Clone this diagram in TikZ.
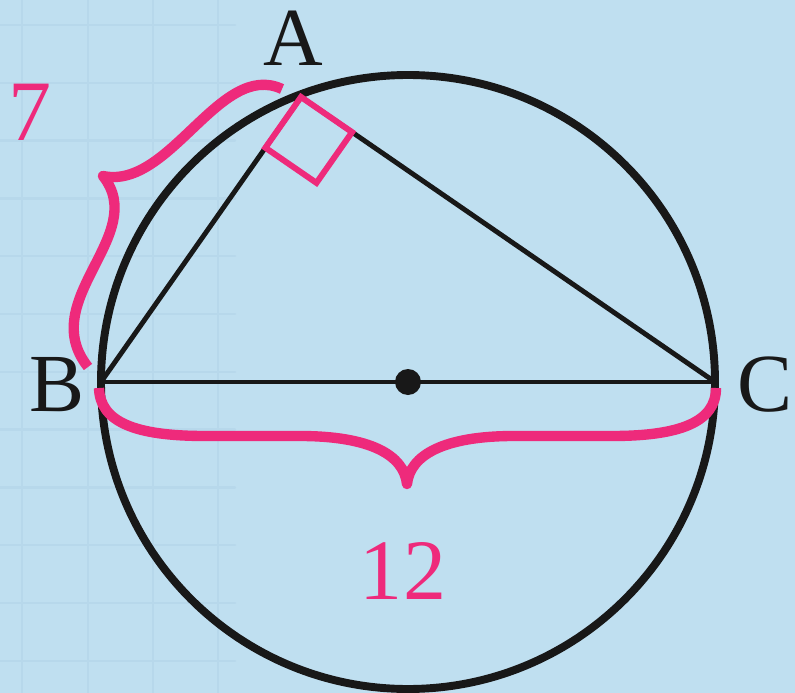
\documentclass[tikz,border=0pt]{standalone}
\usepackage{fontspec}
\setmainfont{Liberation Serif}
\usetikzlibrary{calc}
\definecolor{bgblue}{RGB}{191,223,240}
\definecolor{gridblue}{RGB}{183,216,235}
\definecolor{markpink}{RGB}{238,42,123}
\definecolor{inkblack}{RGB}{24,24,24}
\tikzset{
  vertex label/.style={inner sep=0pt, text=inkblack, font=\fontsize{47}{47}\selectfont},
  length label/.style={inner sep=0pt, text=markpink, font=\fontsize{49}{49}\selectfont},
  brace line/.style={markpink, line width=5.9pt, line cap=butt, line join=round},
  side line/.style={inkblack, line width=2.8pt}
}

\begin{document}
\begin{tikzpicture}[x=0.02cm, y=-0.02cm, line cap=round, line join=round]
  % Background and faint grid (left part only)
  \fill[bgblue] (0,0) rectangle (795,693);
  \useasboundingbox (0,0) rectangle (795,693);
  \foreach \gx in {22,88,153,218}
    \draw[gridblue, line width=1.4pt] (\gx,0) -- (\gx,693);
  \foreach \k in {0,...,11}
    \draw[gridblue, line width=1.4pt] (0,{25+57.8*\k}) -- (235,{25+57.8*\k});

  % Circle and its centre
  \coordinate (O) at (408,382);
  \coordinate (B) at (101,382); % left end of diameter
  \coordinate (C) at (715,382); % right end of diameter
  \coordinate (A) at (301,97);  % right angle vertex

  \draw[inkblack, line width=4.5pt] (O) circle (307);

  % Triangle sides
  \draw[side line] (B) -- (C);
  \draw[side line] (B) -- (A) -- (C);
  \fill[inkblack] (O) circle (13);

  % Right angle mark at A
  \coordinate (R1) at ($(A)!1.24cm!(C)$);
  \coordinate (R2) at ($(A)!1.24cm!(B)$);
  \coordinate (R3) at ($(R1)+(R2)-(A)$);
  \draw[markpink, line width=3.4pt, line join=miter] (A) -- (R1) -- (R3) -- (R2) -- cycle;

  % Brace along AB
  \draw[brace line] (88,367) .. controls (35,300) and (150,235) .. (103,176)
    .. controls (170,190) and (220,60) .. (282,89);

  % Brace under BC
  \draw[brace line] (99,388) .. controls (100,422) and (135,436) .. (205,436) -- (300,436)
    .. controls (370,436) and (404,455) .. (407,484)
    .. controls (410,455) and (444,436) .. (514,436) -- (612,436)
    .. controls (680,436) and (716,422) .. (716,388);

  % Labels
  \node[vertex label] (labA) at (293,38) {A};
  \node[vertex label] (labB) at (57,385) {B};
  \node[vertex label] (labC) at (765,385) {C};
  \node[length label] (lenAB) at (30,112) {7};
  \node[length label] (lenBC) at (403,571) {12};
\end{tikzpicture}
\end{document}
